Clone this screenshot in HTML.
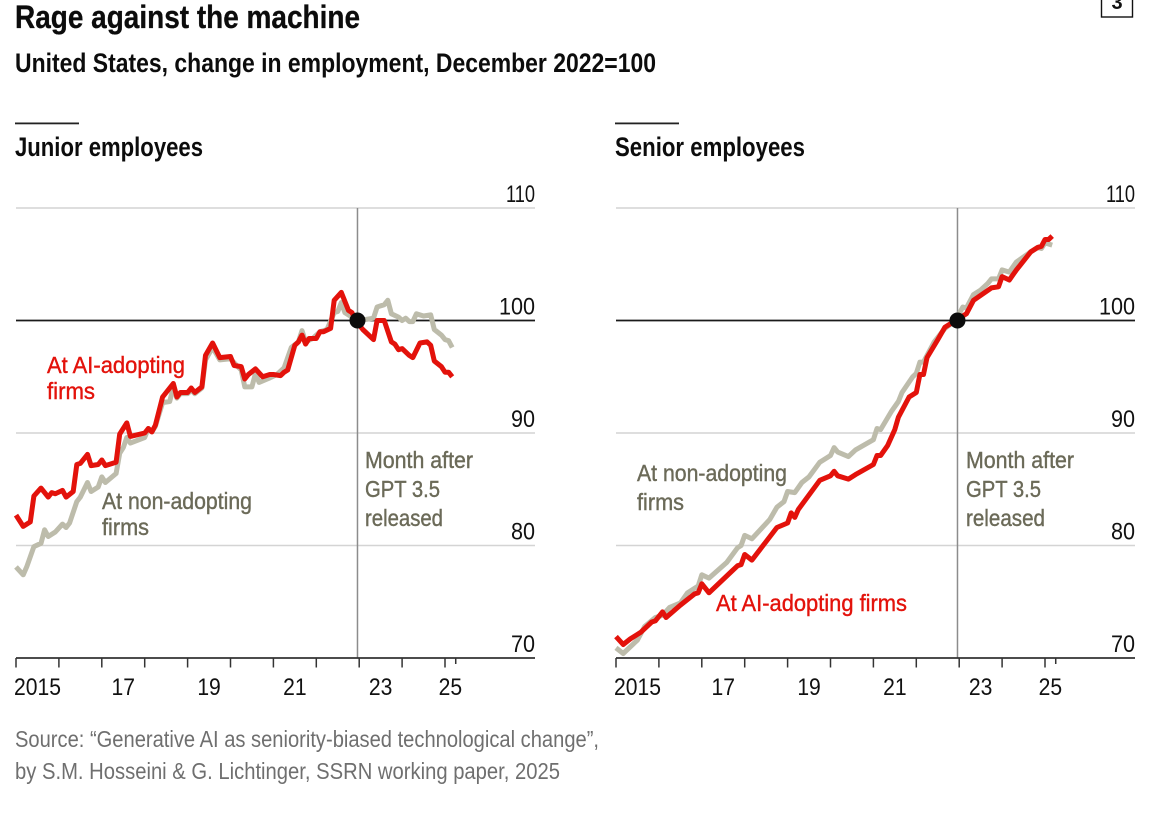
<!DOCTYPE html>
<html lang="en">
<head>
<meta charset="utf-8">
<title>Rage against the machine</title>
<style>
html,body{margin:0;padding:0;background:#fff;width:1160px;height:816px;overflow:hidden}
svg{display:block;font-family:"Liberation Sans",sans-serif}
.med{stroke:currentColor;stroke-width:.4px}
.lab{font-size:23.5px}
.head{stroke:#0c0c0c;stroke-width:.3px}
</style>
</head>
<body>
<svg id="chart" width="1160" height="816" viewBox="0 0 1160 816" xmlns="http://www.w3.org/2000/svg">
  <text class="head" x="15" y="28" font-size="32" font-weight="bold" fill="#0c0c0c" textLength="345" lengthAdjust="spacingAndGlyphs">Rage against the machine</text>
  <text x="15" y="72" font-size="26.5" font-weight="bold" fill="#0c0c0c" textLength="641" lengthAdjust="spacingAndGlyphs">United States, change in employment, December 2022=100</text>
  <rect x="1101.5" y="-4" width="31" height="21" fill="#fff" stroke="#111" stroke-width="1.4"/>
  <text x="1117" y="9" font-size="20" font-weight="bold" text-anchor="middle" fill="#111">3</text>

  <rect x="15" y="122.5" width="64" height="1.8" fill="#222"/>
  <text x="15" y="156" font-size="26.5" font-weight="bold" fill="#0c0c0c" textLength="188" lengthAdjust="spacingAndGlyphs">Junior employees</text>
  <rect x="615" y="122.5" width="64" height="1.8" fill="#222"/>
  <text x="615" y="156" font-size="26.5" font-weight="bold" fill="#0c0c0c" textLength="190" lengthAdjust="spacingAndGlyphs">Senior employees</text>

  <g id="junior-panel"></g>
  <g id="senior-panel"></g>

  <g>
    <text class="lab med" x="47" y="373" fill="#e3120b" color="#e3120b" textLength="138" lengthAdjust="spacingAndGlyphs">At AI-adopting</text>
    <text class="lab med" x="47" y="399" fill="#e3120b" color="#e3120b" textLength="48" lengthAdjust="spacingAndGlyphs">firms</text>
    <text class="lab med" x="102" y="509" fill="#6b6a58" color="#6b6a58" textLength="150" lengthAdjust="spacingAndGlyphs">At non-adopting</text>
    <text class="lab med" x="102" y="535" fill="#6b6a58" color="#6b6a58" textLength="47" lengthAdjust="spacingAndGlyphs">firms</text>
    <text class="lab med" x="365" y="468" fill="#6b6a58" color="#6b6a58" textLength="108" lengthAdjust="spacingAndGlyphs">Month after</text>
    <text class="lab med" x="365" y="497" fill="#6b6a58" color="#6b6a58" textLength="75" lengthAdjust="spacingAndGlyphs">GPT 3.5</text>
    <text class="lab med" x="365" y="526" fill="#6b6a58" color="#6b6a58" textLength="78" lengthAdjust="spacingAndGlyphs">released</text>
  </g>
  <g>
    <text class="lab med" x="637" y="481" fill="#6b6a58" color="#6b6a58" textLength="150" lengthAdjust="spacingAndGlyphs">At non-adopting</text>
    <text class="lab med" x="637" y="510" fill="#6b6a58" color="#6b6a58" textLength="47" lengthAdjust="spacingAndGlyphs">firms</text>
    <text class="lab med" x="716" y="611" fill="#e3120b" color="#e3120b" textLength="191" lengthAdjust="spacingAndGlyphs">At AI-adopting firms</text>
    <text class="lab med" x="966" y="468" fill="#6b6a58" color="#6b6a58" textLength="108" lengthAdjust="spacingAndGlyphs">Month after</text>
    <text class="lab med" x="966" y="497" fill="#6b6a58" color="#6b6a58" textLength="75" lengthAdjust="spacingAndGlyphs">GPT 3.5</text>
    <text class="lab med" x="966" y="526" fill="#6b6a58" color="#6b6a58" textLength="79" lengthAdjust="spacingAndGlyphs">released</text>
  </g>

  <text x="15" y="747" font-size="23" fill="#6f6f6f" textLength="584" lengthAdjust="spacingAndGlyphs">Source: “Generative AI as seniority-biased technological change”,</text>
  <text x="15" y="779" font-size="23" fill="#6f6f6f" textLength="545" lengthAdjust="spacingAndGlyphs">by S.M. Hosseini &amp; G. Lichtinger, SSRN working paper, 2025</text>
</svg>
<script>
// Months are counted from January 2015.
const yTicks = [110, 100, 90, 80, 70];
const tickYears = [2015, 2016, 2017, 2018, 2019, 2020, 2021, 2022, 2023, 2024, 2025];
const yearLabels = ["2015", "17", "19", "21", "23", "25"];
const yearLabelYears = [2015, 2017, 2019, 2021, 2023, 2025];
const endYear = 2025.25;
const referenceYear = 2022.96;

const juniorAiMonths = [0,2,4,5,7,9,10,11,13,14,16,17,18,20,21,23,24,25,28,29,31,32,36,37,38,39,41,44,45,46,48,49,50,52,53,55,57,60,61,63,64,65,67,69,71,72,74,75,76,78,79,80,81,82,84,85,86,88,89,91,93,94,95,97,100,101,103,105,106,107,108,110,111,113,115,116,117,119,120,121,122];
const juniorAiValues = [82.7,81.7,82.1,84.4,85.1,84.3,84.7,84.6,84.9,84.3,84.8,87.2,87.3,88.1,87.1,87.2,87.6,87.1,87.4,89.9,90.9,89.7,90.0,90.4,90.1,90.7,93.2,94.4,93.2,93.6,93.6,94.0,93.6,94.1,96.9,98.0,96.7,96.8,96.0,95.9,94.8,95.2,95.7,95.0,95.2,95.2,95.1,95.4,95.6,97.8,98.1,98.7,97.9,98.4,98.4,99.0,99.0,99.3,101.8,102.5,100.9,100.7,100,99.2,98.3,100,100,98.1,97.9,97.4,97.5,96.9,96.7,98,98.1,97.8,96.4,95.9,95.4,95.4,95.0];

const juniorOtherMonths = [0,2,3,5,7,8,9,11,13,14,15,17,18,20,21,23,24,25,28,29,30,31,32,36,37,38,39,41,43,44,45,46,48,49,50,52,53,55,57,60,62,63,64,66,67,68,71,73,75,76,77,79,80,81,83,85,87,89,90,91,92,94,95,98,100,101,103,104,105,107,108,109,110,111,112,114,116,117,119,120,121,122];
const juniorOtherValues = [78.1,77.4,78.1,79.9,80.2,81.4,80.8,81.2,81.9,81.6,82.0,83.9,84.3,85.6,84.8,85.2,86.1,85.6,86.4,88.2,88.7,89.6,89.1,89.6,90.4,90.1,90.6,92.7,92.8,94.1,93.1,93.5,93.5,93.8,93.5,94,96.5,97.6,96.5,96.6,95.9,95.6,94.1,94.1,95.3,94.5,94.9,95.2,95.8,96.7,97.6,98.1,99.1,98.1,98.4,99.0,99.2,100.7,100.8,101.6,100.7,100.3,100,100.1,100.2,101.2,101.4,101.8,100.6,100.3,100,100.2,99.9,99.9,100.6,100.4,100.5,99.2,98.7,98.3,98.2,97.6];

const seniorAiMonths = [0,2,4,7,10,11,13,14,18,22,23,24,26,32,34,35,36,38,45,48,49,50,51,57,60,61,62,65,67,72,73,74,76,78,79,82,84,85,86,87,90,92,95,98,100,105,107,108,110,112,113,116,118,119,120,121,122];
const seniorAiValues = [71.9,71.2,71.7,72.3,73.2,73.3,74.1,73.6,74.7,75.7,75.8,76.6,75.8,77.6,78.2,78.3,79.2,78.7,81.6,82.0,82.9,82.5,83.2,85.8,86.2,86.6,86.2,85.9,86.3,87.2,88,88,88.9,90.3,91.4,93.2,93.6,95.2,95.2,96.7,98.3,99.4,100,100.6,101.8,102.9,103.0,103.9,103.6,104.5,104.9,106.1,106.5,106.6,107.2,107.2,107.5];

const seniorOtherMonths = [0,2,6,8,11,13,15,18,20,23,24,26,31,34,35,36,38,43,45,47,48,50,52,54,57,60,61,62,65,67,72,73,74,77,79,80,83,84,85,86,89,92,95,97,98,100,102,104,105,107,108,110,112,116,118,119,120,122];
const seniorOtherValues = [70.9,70.4,71.6,72.8,73.6,73.8,74.5,74.9,75.8,76.4,77.4,77.1,78.5,79.8,80.0,80.9,80.6,82.3,83.4,83.9,84.8,84.7,85.6,86.1,87.4,88.0,88.7,88.3,87.9,88.5,89.4,90.4,90.3,91.9,92.8,93.6,95.0,95.3,96.3,96.3,98.1,99.3,100,101.2,101.1,102.3,102.7,103.3,103.7,103.7,104.5,104.3,105.2,106.1,106.5,106.4,106.9,106.7];

const NS = 'http://www.w3.org/2000/svg';
const GREY = '#bdbcab';
const RED = '#e3120b';

function make(parent, tag, attrs) {
  const el = document.createElementNS(NS, tag);
  for (const k in attrs) el.setAttribute(k, attrs[k]);
  parent.appendChild(el);
  return el;
}

function drawPanel(g, left, prefix, aiMonths, aiValues, otherMonths, otherValues) {
  const xOfYear = function (yr) { return left + (yr - 2015) * 42.9; };
  const xOfMonth = function (m) { return xOfYear(2015 + m / 12); };
  const yOf = function (v) { return 658 - (v - 70) * 11.25; };
  const right = left + 519;

  yTicks.forEach(function (t) {
    if (t === 100 || t === 70) return;
    const line = make(g, 'line', {x1: left, x2: right, y1: yOf(t), y2: yOf(t), stroke: '#d4d4d4', 'stroke-width': 1.5});
    
    
  });

  const vline = make(g, 'line', {x1: xOfYear(referenceYear), x2: xOfYear(referenceYear), y1: yOf(110), y2: yOf(70), stroke: '#8c8c8c', 'stroke-width': 1.5});
  
  

  const baseLine = make(g, 'line', {x1: left, x2: right, y1: yOf(100), y2: yOf(100), stroke: '#1a1a1a', 'stroke-width': 1.8});
  
  

  const axis = make(g, 'line', {x1: left, x2: right, y1: yOf(70), y2: yOf(70), stroke: '#333', 'stroke-width': 1.7});
  
  

  tickYears.forEach(function (yr) {
    const tick = make(g, 'line', {x1: xOfYear(yr), x2: xOfYear(yr), y1: yOf(70), y2: yOf(70) + 9.5, stroke: '#333', 'stroke-width': 1.5});
    
    
  });
  const endTick = make(g, 'line', {x1: xOfYear(endYear), x2: xOfYear(endYear), y1: yOf(70), y2: yOf(70) + 6, stroke: '#333', 'stroke-width': 1.5});
  
  

  yearLabels.forEach(function (label, i) {
    const yr = yearLabelYears[i];
    const cx = (xOfYear(yr) + xOfYear(Math.min(yr + 1, endYear))) / 2;
    const t = make(g, 'text', {transform: 'translate(' + cx + ',695) scale(.88,1)', 'font-size': 24, 'text-anchor': 'middle', fill: '#111'});
    
    
    t.textContent = label;
  });

  yTicks.forEach(function (v) {
    const squeeze = String(v).indexOf('11') === 0 ? 0.76 : 0.9;
    const t = make(g, 'text', {transform: 'translate(' + right + ',' + (yOf(v) - 6) + ') scale(' + squeeze + ',1)', 'font-size': 24, 'text-anchor': 'end', fill: '#111'});
    
    
    t.textContent = String(v);
  });

  const pathOf = function (months, values) {
    return months.map(function (m, i) {
      return (i ? 'L' : 'M') + xOfMonth(m).toFixed(1) + ' ' + yOf(values[i]).toFixed(1);
    }).join('');
  };

  const other = make(g, 'path', {d: pathOf(otherMonths, otherValues), fill: 'none', stroke: GREY, 'stroke-width': 5, 'stroke-linejoin': 'round'});
  
  

  const ai = make(g, 'path', {d: pathOf(aiMonths, aiValues), fill: 'none', stroke: RED, 'stroke-width': 5, 'stroke-linejoin': 'round'});
  
  

  const dot = make(g, 'circle', {cx: xOfYear(referenceYear), cy: yOf(100), r: 8, fill: '#0c0c0c'});
  
  
}

drawPanel(document.getElementById('junior-panel'), 16, 'junior', juniorAiMonths, juniorAiValues, juniorOtherMonths, juniorOtherValues);
drawPanel(document.getElementById('senior-panel'), 616, 'senior', seniorAiMonths, seniorAiValues, seniorOtherMonths, seniorOtherValues);
</script>
</body>
</html>
